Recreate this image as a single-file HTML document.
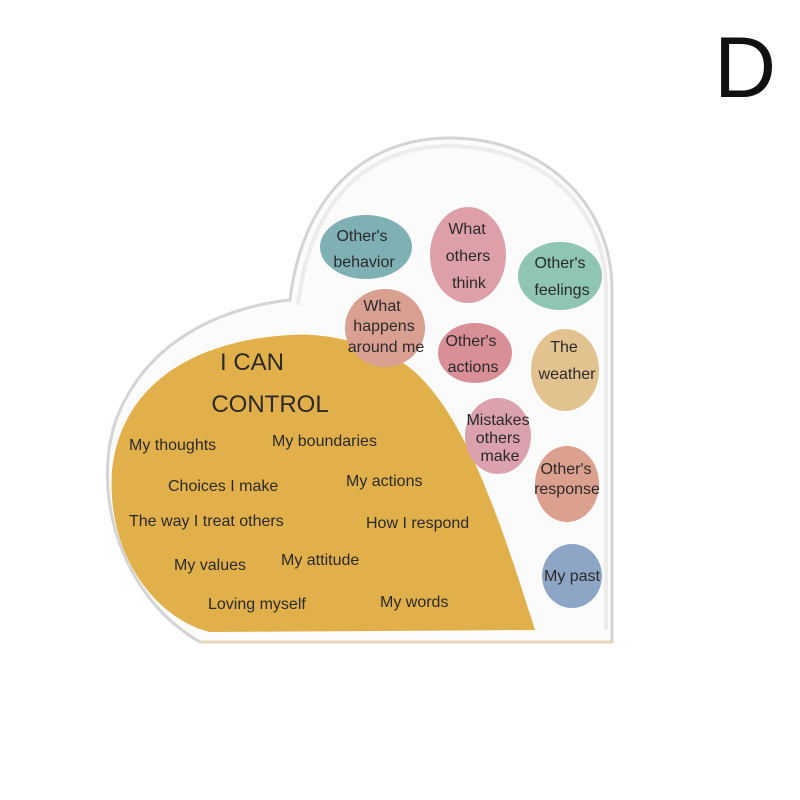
<!DOCTYPE html>
<html><head><style>
html,body{margin:0;padding:0;background:#fff;}
svg{display:block;font-family:"Liberation Sans",sans-serif;}
</style></head><body>
<svg width="800" height="800" viewBox="0 0 800 800" xmlns="http://www.w3.org/2000/svg">
<rect width="800" height="800" fill="#fff"/>
<text x="745" y="97" font-size="86" text-anchor="middle" fill="#111">D</text>
<!-- heart acrylic -->
<path d="M612,642 L612,290 C612,200 540,138 450,138 C362,138 302,198 290,300 C240,305 150,330 116,420 C92,490 118,595 200,642 Z" fill="#fbfbfb" stroke="#d4d4d4" stroke-width="3"/>
<path d="M606,630 L606,290 C606,205 538,146 450,146 C368,146 310,200 298,305" fill="none" stroke="#ececec" stroke-width="4"/>
<path d="M290,335 C200,340 122,380 112,470 C106,560 160,620 210,632 L535,630 C500,520 462,402 402,362 C362,340 322,333 290,335 Z" fill="#e2b04a"/>
<path d="M200,642 L612,642" stroke="#e7d9b8" stroke-width="3"/>
<g font-size="16" fill="#2a2a2a" text-anchor="middle">
<ellipse cx="366" cy="247" rx="46" ry="32" fill="#7fb0b3"/>
<text x="362" y="241">Other's</text><text x="364" y="267">behavior</text>
<ellipse cx="468" cy="255" rx="38" ry="48" fill="#dda0a8"/>
<text x="467" y="234">What</text><text x="468" y="261">others</text><text x="469" y="288">think</text>
<ellipse cx="560" cy="276" rx="42" ry="34" fill="#8fc5b3"/>
<text x="560" y="268">Other's</text><text x="562" y="295">feelings</text>
<ellipse cx="385" cy="328" rx="40" ry="39" fill="#d9a092"/>
<text x="382" y="311">What</text><text x="384" y="331">happens</text><text x="386" y="352">around me</text>
<ellipse cx="475" cy="353" rx="37" ry="30" fill="#d98f96"/>
<text x="471" y="346">Other's</text><text x="473" y="372">actions</text>
<ellipse cx="565" cy="370" rx="34" ry="41" fill="#e2c28e"/>
<text x="564" y="352">The</text><text x="567" y="379">weather</text>
<ellipse cx="498" cy="436" rx="33" ry="38" fill="#dba1ad"/>
<text x="498" y="425">Mistakes</text><text x="498" y="443">others</text><text x="500" y="461">make</text>
<ellipse cx="567" cy="484" rx="32" ry="38" fill="#dba08e"/>
<text x="566" y="474">Other's</text><text x="567" y="494">response</text>
<ellipse cx="572" cy="576" rx="30" ry="32" fill="#8ea6c6"/>
<text x="572" y="581">My past</text>
</g>
<g fill="#2a2a2a" font-size="16">
<text x="252" y="370" font-size="24" text-anchor="middle">I CAN</text>
<text x="270" y="412" font-size="24" text-anchor="middle">CONTROL</text>
<text x="129" y="450">My thoughts</text>
<text x="272" y="446">My boundaries</text>
<text x="168" y="491">Choices I make</text>
<text x="346" y="486">My actions</text>
<text x="129" y="526">The way I treat others</text>
<text x="366" y="528">How I respond</text>
<text x="174" y="570">My values</text>
<text x="281" y="565">My attitude</text>
<text x="208" y="609">Loving myself</text>
<text x="380" y="607">My words</text>
</g>
</svg>
</body></html>
